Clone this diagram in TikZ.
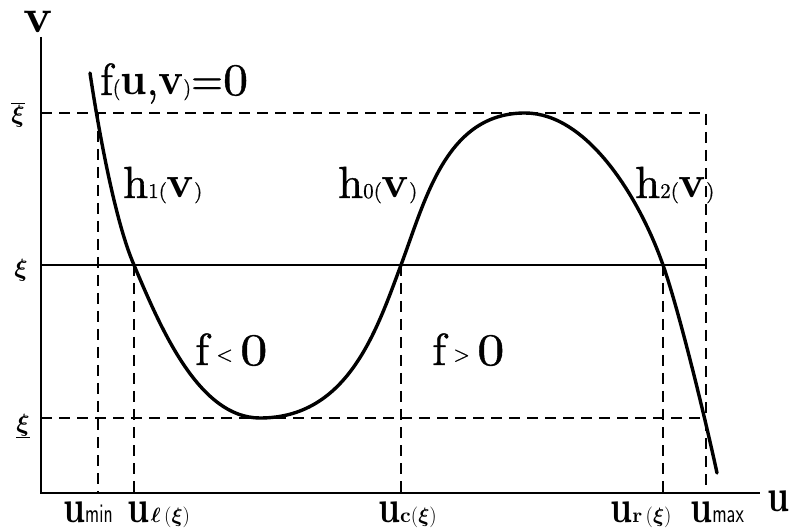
\documentclass[tikz,border=0pt]{standalone}
\usepackage{bm}
\usepackage{fontspec}
\newfontfamily\lfr{lmroman10-regular}[Extension=.otf, FakeBold=0.8]
\newfontfamily\lfb{lmroman10-bold}[Extension=.otf]
\newcommand\fsz[1]{\fontsize{#1}{#1}\selectfont}
\newcommand\bu{\scalebox{0.75}[1]{\lfb\fsz{46}u}}
\newcommand\bv{{\lfb v}}
\newcommand\bfu{{\lfb u}}
\newcommand\sm[1]{{\fsz{21}#1}}
\newcommand\zro{\scalebox{1.2}[1]{0}}
\tikzset{
  axisline/.style={line width=2.3pt},
  curveline/.style={line width=3.4pt, line cap=round},
  guide/.style={line width=1.8pt, dash pattern=on 11pt off 7pt},
  levelline/.style={line width=1.3pt},
  biglbl/.style={inner sep=0pt, anchor=base west, font=\lfr\fsz{45}},
  ulbl/.style={inner sep=0pt, anchor=base west},
  xilbl/.style={inner sep=0pt, anchor=center, font=\fsz{26}}
}
\begin{document}
\begin{tikzpicture}[x=1pt,y=-1pt]
\useasboundingbox (0,0) rectangle (793,529);
% key points
\coordinate (O) at (41,493);
\coordinate (Ytop) at (41,37);
\coordinate (Xend) at (760,493);
\coordinate (TopL) at (41,113);
\coordinate (TopR) at (706,113);
\coordinate (MidL) at (41,265);
\coordinate (MidR) at (706,265);
\coordinate (LowL) at (41,418);
\coordinate (LowR) at (706,418);
\coordinate (umin) at (98,113);
\coordinate (uminB) at (98,493);
\coordinate (ul) at (134,265);
\coordinate (ulB) at (134,493);
\coordinate (uc) at (401,265);
\coordinate (ucB) at (401,493);
\coordinate (ur) at (663,265);
\coordinate (urB) at (663,493);
\coordinate (umaxB) at (706,493);
\coordinate (cstart) at (90,73);
\coordinate (cmin) at (260,418);
\coordinate (cmax) at (525,113);
\coordinate (cend) at (717,473);
% guides
\draw[guide] (TopL) -- (TopR) -- (umaxB);
\draw[guide] (LowL) -- (LowR);
\draw[guide] (umin) -- (uminB);
\draw[guide] (ul) -- (ulB);
\draw[guide] (uc) -- (ucB);
\draw[guide] (ur) -- (urB);
\draw[levelline] (MidL) -- (MidR);
% axes
\draw[axisline] (Ytop) -- (O) -- (Xend);
% curve f(u,v)=0
\draw[curveline] (cstart)
  .. controls (97,120) and (114,219) .. (ul)
  .. controls (161,329) and (199,418) .. (cmin)
  .. controls (348,418) and (376.5,330.6) .. (uc)
  .. controls (425.5,199.4) and (446,113) .. (cmax)
  .. controls (588,113) and (639.9,199.2) .. (ur)
  .. controls (679.5,312) and (706.5,424) .. (cend);
% axis labels
\node[inner sep=0pt, font=\lfb\fsz{48}] (vlab) at (38,22) {v};
\node[inner sep=0pt] (ulab) at (779,501) {\bu};
% curve labels
\node[biglbl] (flab) at (100,95) {\scalebox{0.92}[1]{f\sm{(}\bfu,\bv\sm{)}=\zro}};
\node[biglbl] (h1) at (123,198) {h\sm{1(}\bv\sm{)}};
\node[biglbl] (h0) at (338,198) {h\sm{0(}\bv\sm{)}};
\node[biglbl] (h2) at (635,198) {h\sm{2(}\bv\sm{)}};
\node[biglbl] (fneg) at (195,365) {f\,\raisebox{4pt}{\sm{<}}\,\zro};
\node[biglbl] (fpos) at (432,365) {f\,\raisebox{4pt}{\sm{>}}\,\zro};
% level labels
\node[xilbl] (xitop) at (18,115) {$\overline{\bm\xi}$};
\node[xilbl] (ximid) at (21,270) {$\bm\xi$};
\node[xilbl] (xilow) at (23,426) {$\underline{\bm\xi}$};
% u labels
\node[ulbl] (lmin) at (63,522) {\bu\scalebox{0.7}[1]{\fsz{27}\sffamily min}};
\node[ulbl] (ll) at (127,522) {\bu\,{\fsz{21}$\bm\ell\,(\bm\xi)$}};
\node[ulbl] (lc) at (378,522) {\bu{\fsz{21}\lfb c$(\bm\xi)$}};
\node[ulbl] (lr) at (610,522) {\bu{\fsz{21}\lfb r$\,(\bm\xi)$}};
\node[ulbl] (lmax) at (690,522) {\bu\scalebox{0.72}[1]{\fsz{27}\sffamily max}};
\end{tikzpicture}
\end{document}
